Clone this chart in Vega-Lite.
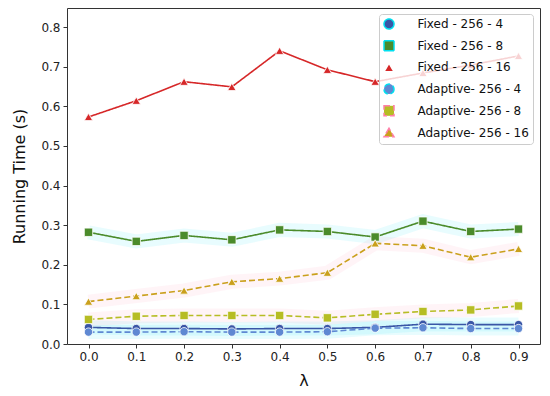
{
  "$schema": "https://vega.github.io/schema/vega-lite/v6.json",
  "width": 473,
  "height": 336,
  "autosize": {"type": "none"},
  "padding": {"left": 67, "top": 8, "right": 10, "bottom": 52},
  "background": "white",
  "config": {
    "font": "DejaVu Sans",
    "view": {"stroke": "#333333", "strokeWidth": 1},
    "axis": {
      "domain": false,
      "grid": false,
      "tickColor": "#333333",
      "tickSize": 4,
      "labelFontSize": 12,
      "labelColor": "#222222",
      "labelPadding": 3,
      "titleFontSize": 16,
      "titleFontWeight": "normal",
      "titleColor": "#111111"
    },
    "legend": {
      "orient": "none", "legendX": 312, "legendY": 6,
      "symbolSize": 100, "symbolStrokeWidth": 1.5, "symbolOpacity": 1,
      "labelFontSize": 12, "labelColor": "#111111", "labelOffset": 22.5,
      "rowPadding": 5.7, "padding": 4,
      "fillColor": "rgba(255,255,255,0.8)", "strokeColor": "#cccccc", "cornerRadius": 3
    }
  },
  "data": {
    "values": [
      {"lambda": 0.0, "series": "Fixed - 256 - 4", "time": 0.042},
      {"lambda": 0.1, "series": "Fixed - 256 - 4", "time": 0.039},
      {"lambda": 0.2, "series": "Fixed - 256 - 4", "time": 0.039},
      {"lambda": 0.3, "series": "Fixed - 256 - 4", "time": 0.038},
      {"lambda": 0.4, "series": "Fixed - 256 - 4", "time": 0.039},
      {"lambda": 0.5, "series": "Fixed - 256 - 4", "time": 0.039},
      {"lambda": 0.6, "series": "Fixed - 256 - 4", "time": 0.042},
      {"lambda": 0.7, "series": "Fixed - 256 - 4", "time": 0.050},
      {"lambda": 0.8, "series": "Fixed - 256 - 4", "time": 0.049},
      {"lambda": 0.9, "series": "Fixed - 256 - 4", "time": 0.049},
      {"lambda": 0.0, "series": "Fixed - 256 - 8", "time": 0.282},
      {"lambda": 0.1, "series": "Fixed - 256 - 8", "time": 0.259},
      {"lambda": 0.2, "series": "Fixed - 256 - 8", "time": 0.274},
      {"lambda": 0.3, "series": "Fixed - 256 - 8", "time": 0.263},
      {"lambda": 0.4, "series": "Fixed - 256 - 8", "time": 0.288},
      {"lambda": 0.5, "series": "Fixed - 256 - 8", "time": 0.284},
      {"lambda": 0.6, "series": "Fixed - 256 - 8", "time": 0.270},
      {"lambda": 0.7, "series": "Fixed - 256 - 8", "time": 0.310},
      {"lambda": 0.8, "series": "Fixed - 256 - 8", "time": 0.284},
      {"lambda": 0.9, "series": "Fixed - 256 - 8", "time": 0.290},
      {"lambda": 0.0, "series": "Fixed - 256 - 16", "time": 0.573},
      {"lambda": 0.1, "series": "Fixed - 256 - 16", "time": 0.614},
      {"lambda": 0.2, "series": "Fixed - 256 - 16", "time": 0.662},
      {"lambda": 0.3, "series": "Fixed - 256 - 16", "time": 0.649},
      {"lambda": 0.4, "series": "Fixed - 256 - 16", "time": 0.740},
      {"lambda": 0.5, "series": "Fixed - 256 - 16", "time": 0.692},
      {"lambda": 0.6, "series": "Fixed - 256 - 16", "time": 0.662},
      {"lambda": 0.7, "series": "Fixed - 256 - 16", "time": 0.684},
      {"lambda": 0.8, "series": "Fixed - 256 - 16", "time": 0.704},
      {"lambda": 0.9, "series": "Fixed - 256 - 16", "time": 0.727},
      {"lambda": 0.0, "series": "Adaptive- 256 - 4", "time": 0.030},
      {"lambda": 0.1, "series": "Adaptive- 256 - 4", "time": 0.030},
      {"lambda": 0.2, "series": "Adaptive- 256 - 4", "time": 0.031},
      {"lambda": 0.3, "series": "Adaptive- 256 - 4", "time": 0.030},
      {"lambda": 0.4, "series": "Adaptive- 256 - 4", "time": 0.030},
      {"lambda": 0.5, "series": "Adaptive- 256 - 4", "time": 0.031},
      {"lambda": 0.6, "series": "Adaptive- 256 - 4", "time": 0.040},
      {"lambda": 0.7, "series": "Adaptive- 256 - 4", "time": 0.041},
      {"lambda": 0.8, "series": "Adaptive- 256 - 4", "time": 0.039},
      {"lambda": 0.9, "series": "Adaptive- 256 - 4", "time": 0.039},
      {"lambda": 0.0, "series": "Adaptive- 256 - 8", "time": 0.062},
      {"lambda": 0.1, "series": "Adaptive- 256 - 8", "time": 0.070},
      {"lambda": 0.2, "series": "Adaptive- 256 - 8", "time": 0.072},
      {"lambda": 0.3, "series": "Adaptive- 256 - 8", "time": 0.072},
      {"lambda": 0.4, "series": "Adaptive- 256 - 8", "time": 0.072},
      {"lambda": 0.5, "series": "Adaptive- 256 - 8", "time": 0.066},
      {"lambda": 0.6, "series": "Adaptive- 256 - 8", "time": 0.075},
      {"lambda": 0.7, "series": "Adaptive- 256 - 8", "time": 0.082},
      {"lambda": 0.8, "series": "Adaptive- 256 - 8", "time": 0.086},
      {"lambda": 0.9, "series": "Adaptive- 256 - 8", "time": 0.096},
      {"lambda": 0.0, "series": "Adaptive- 256 - 16", "time": 0.107},
      {"lambda": 0.1, "series": "Adaptive- 256 - 16", "time": 0.121},
      {"lambda": 0.2, "series": "Adaptive- 256 - 16", "time": 0.135},
      {"lambda": 0.3, "series": "Adaptive- 256 - 16", "time": 0.157},
      {"lambda": 0.4, "series": "Adaptive- 256 - 16", "time": 0.165},
      {"lambda": 0.5, "series": "Adaptive- 256 - 16", "time": 0.180},
      {"lambda": 0.6, "series": "Adaptive- 256 - 16", "time": 0.254},
      {"lambda": 0.7, "series": "Adaptive- 256 - 16", "time": 0.248},
      {"lambda": 0.8, "series": "Adaptive- 256 - 16", "time": 0.219},
      {"lambda": 0.9, "series": "Adaptive- 256 - 16", "time": 0.240}
    ]
  },
  "encoding": {
    "x": {
      "field": "lambda",
      "type": "quantitative",
      "scale": {"domain": [-0.045, 0.945], "nice": false, "zero": false},
      "axis": {"values": [0, 0.1, 0.2, 0.3, 0.4, 0.5, 0.6, 0.7, 0.8, 0.9], "format": ".1f", "title": "λ", "titlePadding": 10}
    },
    "y": {
      "field": "time",
      "type": "quantitative",
      "scale": {"domain": [0, 0.848], "nice": false},
      "axis": {"values": [0, 0.1, 0.2, 0.3, 0.4, 0.5, 0.6, 0.7, 0.8], "format": ".1f", "title": "Running Time (s)", "titlePadding": 13}
    }
  },
  "layer": [
    {
      "mark": {"type": "line", "strokeWidth": 14, "opacity": 0.09, "strokeCap": "butt"},
      "encoding": {
        "stroke": {
          "field": "series", "type": "nominal", "title": null,
          "scale": {
            "domain": ["Fixed - 256 - 4", "Fixed - 256 - 8", "Fixed - 256 - 16", "Adaptive- 256 - 4", "Adaptive- 256 - 8", "Adaptive- 256 - 16"],
            "range": ["#00e0f0", "#00e0f0", "#ffffff", "#00e0f0", "#ff80a8", "#ff80a8"]
          },
          "legend": {
            "symbolSize": 100, "symbolStrokeWidth": 1.5, "symbolOpacity": 1,
            "encode": {
              "symbols": {
                "update": {
                  "size": {"value": 100},
                  "opacity": {"value": 1},
                  "strokeWidth": {"value": 1.5},
                  "strokeDash": {"value": []},
                  "fill": {"signal": "['#1f77b4','#2ca02c','#d62728','#17becf','#bcbd22','#ff7f0e'][indexof(['Fixed - 256 - 4','Fixed - 256 - 8','Fixed - 256 - 16','Adaptive- 256 - 4','Adaptive- 256 - 8','Adaptive- 256 - 16'], datum.value)]"},
                  "stroke": {"signal": "['#1f77b4','#2ca02c','#d62728','#17becf','#bcbd22','#ff7f0e'][indexof(['Fixed - 256 - 4','Fixed - 256 - 8','Fixed - 256 - 16','Adaptive- 256 - 4','Adaptive- 256 - 8','Adaptive- 256 - 16'], datum.value)]"},
                  "shape": {"signal": "['M-1.35,0H0.05M2.45,0H3.85M0.5,0A0.75,0.75 0 1,0 2,0A0.75,0.75 0 1,0 0.5,0Z','M-1.35,0H0.05M2.45,0H3.85M0.5,-0.75H2V0.75H0.5Z','M-1.35,0H0.05M2.45,0H3.85M1.25,-0.85L2.05,0.6L0.45,0.6Z'][indexof(['Fixed - 256 - 4','Fixed - 256 - 8','Fixed - 256 - 16','Adaptive- 256 - 4','Adaptive- 256 - 8','Adaptive- 256 - 16'], datum.value) % 3]"}
                }
              }
            }
          }
        }
      }
    },
    {
      "mark": {"type": "line", "strokeWidth": 1.6},
      "encoding": {
        "color": {
          "field": "series", "type": "nominal", "title": null,
          "scale": {
            "domain": ["Fixed - 256 - 4", "Fixed - 256 - 8", "Fixed - 256 - 16", "Adaptive- 256 - 4", "Adaptive- 256 - 8", "Adaptive- 256 - 16"],
            "range": ["#3a56a6", "#4b8b2b", "#d62728", "#5f88d2", "#b6bd24", "#caa01c"]
          },
          "legend": {
            "symbolSize": 100, "symbolStrokeWidth": 1.5, "symbolOpacity": 1,
            "encode": {
              "symbols": {
                "update": {
                  "size": {"value": 100},
                  "opacity": {"value": 1},
                  "strokeWidth": {"value": 1.5},
                  "strokeDash": {"value": []},
                  "fill": {"signal": "['#1f77b4','#2ca02c','#d62728','#17becf','#bcbd22','#ff7f0e'][indexof(['Fixed - 256 - 4','Fixed - 256 - 8','Fixed - 256 - 16','Adaptive- 256 - 4','Adaptive- 256 - 8','Adaptive- 256 - 16'], datum.value)]"},
                  "stroke": {"signal": "['#1f77b4','#2ca02c','#d62728','#17becf','#bcbd22','#ff7f0e'][indexof(['Fixed - 256 - 4','Fixed - 256 - 8','Fixed - 256 - 16','Adaptive- 256 - 4','Adaptive- 256 - 8','Adaptive- 256 - 16'], datum.value)]"},
                  "shape": {"signal": "['M-1.35,0H0.05M2.45,0H3.85M0.5,0A0.75,0.75 0 1,0 2,0A0.75,0.75 0 1,0 0.5,0Z','M-1.35,0H0.05M2.45,0H3.85M0.5,-0.75H2V0.75H0.5Z','M-1.35,0H0.05M2.45,0H3.85M1.25,-0.85L2.05,0.6L0.45,0.6Z'][indexof(['Fixed - 256 - 4','Fixed - 256 - 8','Fixed - 256 - 16','Adaptive- 256 - 4','Adaptive- 256 - 8','Adaptive- 256 - 16'], datum.value) % 3]"}
                }
              }
            }
          }
        },
        "strokeDash": {
          "field": "series", "type": "nominal", "title": null,
          "scale": {
            "domain": ["Fixed - 256 - 4", "Fixed - 256 - 8", "Fixed - 256 - 16", "Adaptive- 256 - 4", "Adaptive- 256 - 8", "Adaptive- 256 - 16"],
            "range": [[1, 0], [1, 0], [1, 0], [6, 3], [6, 3], [6, 3]]
          },
          "legend": {
            "symbolSize": 100, "symbolStrokeWidth": 1.5, "symbolOpacity": 1,
            "encode": {
              "symbols": {
                "update": {
                  "size": {"value": 100},
                  "opacity": {"value": 1},
                  "strokeWidth": {"value": 1.5},
                  "strokeDash": {"value": []},
                  "fill": {"signal": "['#1f77b4','#2ca02c','#d62728','#17becf','#bcbd22','#ff7f0e'][indexof(['Fixed - 256 - 4','Fixed - 256 - 8','Fixed - 256 - 16','Adaptive- 256 - 4','Adaptive- 256 - 8','Adaptive- 256 - 16'], datum.value)]"},
                  "stroke": {"signal": "['#1f77b4','#2ca02c','#d62728','#17becf','#bcbd22','#ff7f0e'][indexof(['Fixed - 256 - 4','Fixed - 256 - 8','Fixed - 256 - 16','Adaptive- 256 - 4','Adaptive- 256 - 8','Adaptive- 256 - 16'], datum.value)]"},
                  "shape": {"signal": "['M-1.35,0H0.05M2.45,0H3.85M0.5,0A0.75,0.75 0 1,0 2,0A0.75,0.75 0 1,0 0.5,0Z','M-1.35,0H0.05M2.45,0H3.85M0.5,-0.75H2V0.75H0.5Z','M-1.35,0H0.05M2.45,0H3.85M1.25,-0.85L2.05,0.6L0.45,0.6Z'][indexof(['Fixed - 256 - 4','Fixed - 256 - 8','Fixed - 256 - 16','Adaptive- 256 - 4','Adaptive- 256 - 8','Adaptive- 256 - 16'], datum.value) % 3]"}
                }
              }
            }
          }
        }
      }
    },
    {
      "mark": {"type": "point", "filled": true, "opacity": 1, "size": 70, "stroke": "white", "strokeWidth": 0.8},
      "encoding": {
        "color": {
          "field": "series", "type": "nominal", "title": null,
          "scale": {
            "domain": ["Fixed - 256 - 4", "Fixed - 256 - 8", "Fixed - 256 - 16", "Adaptive- 256 - 4", "Adaptive- 256 - 8", "Adaptive- 256 - 16"],
            "range": ["#3a56a6", "#4b8b2b", "#d62728", "#5f88d2", "#b6bd24", "#caa01c"]
          },
          "legend": {
            "symbolSize": 100, "symbolStrokeWidth": 1.5, "symbolOpacity": 1,
            "encode": {
              "symbols": {
                "update": {
                  "size": {"value": 100},
                  "opacity": {"value": 1},
                  "strokeWidth": {"value": 1.5},
                  "strokeDash": {"value": []},
                  "fill": {"signal": "['#1f77b4','#2ca02c','#d62728','#17becf','#bcbd22','#ff7f0e'][indexof(['Fixed - 256 - 4','Fixed - 256 - 8','Fixed - 256 - 16','Adaptive- 256 - 4','Adaptive- 256 - 8','Adaptive- 256 - 16'], datum.value)]"},
                  "stroke": {"signal": "['#1f77b4','#2ca02c','#d62728','#17becf','#bcbd22','#ff7f0e'][indexof(['Fixed - 256 - 4','Fixed - 256 - 8','Fixed - 256 - 16','Adaptive- 256 - 4','Adaptive- 256 - 8','Adaptive- 256 - 16'], datum.value)]"},
                  "shape": {"signal": "['M-1.35,0H0.05M2.45,0H3.85M0.5,0A0.75,0.75 0 1,0 2,0A0.75,0.75 0 1,0 0.5,0Z','M-1.35,0H0.05M2.45,0H3.85M0.5,-0.75H2V0.75H0.5Z','M-1.35,0H0.05M2.45,0H3.85M1.25,-0.85L2.05,0.6L0.45,0.6Z'][indexof(['Fixed - 256 - 4','Fixed - 256 - 8','Fixed - 256 - 16','Adaptive- 256 - 4','Adaptive- 256 - 8','Adaptive- 256 - 16'], datum.value) % 3]"}
                }
              }
            }
          }
        },
        "shape": {
          "field": "series", "type": "nominal", "title": null,
          "scale": {
            "domain": ["Fixed - 256 - 4", "Fixed - 256 - 8", "Fixed - 256 - 16", "Adaptive- 256 - 4", "Adaptive- 256 - 8", "Adaptive- 256 - 16"],
            "range": ["circle", "square", "triangle-up", "circle", "square", "triangle-up"]
          },
          "legend": {
            "symbolSize": 100, "symbolStrokeWidth": 1.5, "symbolOpacity": 1,
            "encode": {
              "symbols": {
                "update": {
                  "size": {"value": 100},
                  "opacity": {"value": 1},
                  "strokeWidth": {"value": 1.5},
                  "strokeDash": {"value": []},
                  "fill": {"signal": "['#1f77b4','#2ca02c','#d62728','#17becf','#bcbd22','#ff7f0e'][indexof(['Fixed - 256 - 4','Fixed - 256 - 8','Fixed - 256 - 16','Adaptive- 256 - 4','Adaptive- 256 - 8','Adaptive- 256 - 16'], datum.value)]"},
                  "stroke": {"signal": "['#1f77b4','#2ca02c','#d62728','#17becf','#bcbd22','#ff7f0e'][indexof(['Fixed - 256 - 4','Fixed - 256 - 8','Fixed - 256 - 16','Adaptive- 256 - 4','Adaptive- 256 - 8','Adaptive- 256 - 16'], datum.value)]"},
                  "shape": {"signal": "['M-1.35,0H0.05M2.45,0H3.85M0.5,0A0.75,0.75 0 1,0 2,0A0.75,0.75 0 1,0 0.5,0Z','M-1.35,0H0.05M2.45,0H3.85M0.5,-0.75H2V0.75H0.5Z','M-1.35,0H0.05M2.45,0H3.85M1.25,-0.85L2.05,0.6L0.45,0.6Z'][indexof(['Fixed - 256 - 4','Fixed - 256 - 8','Fixed - 256 - 16','Adaptive- 256 - 4','Adaptive- 256 - 8','Adaptive- 256 - 16'], datum.value) % 3]"}
                }
              }
            }
          }
        }
      }
    }
  ]
}
